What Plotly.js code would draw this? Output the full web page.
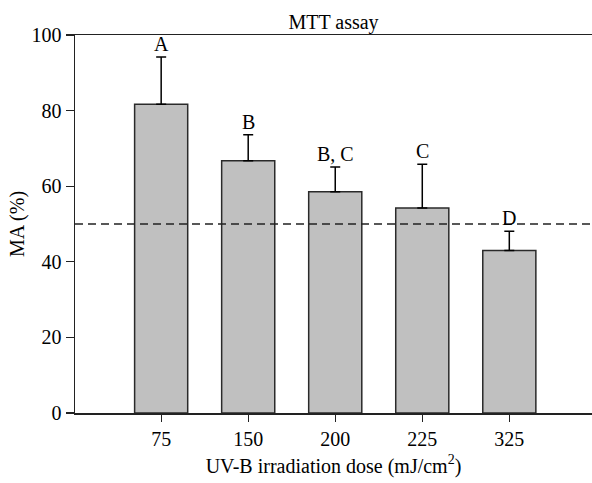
<!DOCTYPE html>
<html>
<head>
<meta charset="utf-8">
<script src="https://cdn.plot.ly/plotly-3.0.1.min.js"></script>
<style>html,body{margin:0;padding:0;background:#fff;}#chart{width:592px;height:483px;}</style>
</head>
<body>
<div id="chart"></div>
<script>
var doses = ["75", "150", "200", "225", "325"];
var maValues = [81.7, 66.7, 58.5, 54.2, 43.0];
var maErrors = [12.5, 6.9, 6.6, 11.6, 5.1];
var groupLabels = ["A", "B", "B, C", "C", "D"];
var thresholdValue = 50;

var FONT = "Liberation Serif, Times New Roman, serif";
var FS = 20;

var trace = {
  type: "bar",
  x: doses,
  y: maValues,
  width: 0.61,
  marker: {color: "#c0c0c0", line: {color: "#2a2a2a", width: 1.5}},
  error_y: {type: "data", array: maErrors, arrayminus: maErrors.map(function(){return 0;}), symmetric: false,
            color: "#000", thickness: 1.5, width: 5},
  hoverinfo: "none"
};

var annotations = doses.map(function(d, i) {
  return {x: i, y: maValues[i] + maErrors[i], xref: "x", yref: "y",
          text: groupLabels[i], showarrow: false, yanchor: "bottom", yshift: 0,
          font: {family: FONT, size: FS, color: "#000"}};
});

var layout = {
  width: 592, height: 483,
  margin: {l: 75, r: 0, t: 35, b: 70, pad: 0},
  paper_bgcolor: "#fff", plot_bgcolor: "#fff",
  showlegend: false,
  font: {family: FONT, size: FS, color: "#000"},
  title: {text: "MTT assay", font: {family: FONT, size: FS, color: "#000"},
          x: 0.5, xref: "paper", y: 1, yref: "paper", yanchor: "bottom", pad: {b: 6}},
  xaxis: {
    type: "category",
    range: [-0.99, 4.95],
    showline: true, linecolor: "#222", linewidth: 1.5, mirror: true,
    ticks: "outside", ticklen: 7, tickwidth: 1.3, tickcolor: "#222",
    showgrid: false, zeroline: false,
    tickfont: {family: FONT, size: FS, color: "#000"},
    title: {text: "UV-B irradiation dose (mJ/cm<sup>2</sup>)", font: {family: FONT, size: FS, color: "#000"}, standoff: 10}
  },
  yaxis: {
    range: [0, 100],
    tickvals: [0, 20, 40, 60, 80, 100],
    showline: true, linecolor: "#222", linewidth: 1.5, mirror: false,
    ticks: "outside", ticklen: 8, tickwidth: 1.3, tickcolor: "#222",
    showgrid: false, zeroline: false,
    tickfont: {family: FONT, size: FS, color: "#000"},
    title: {text: "MA (%)", font: {family: FONT, size: FS, color: "#000"}, standoff: 1}
  },
  shapes: [{type: "line", xref: "paper", x0: 0, x1: 1, yref: "y", y0: thresholdValue, y1: thresholdValue,
            line: {color: "#222", width: 1.5, dash: "8px,5px"}}],
  annotations: annotations
};

Plotly.newPlot("chart", [trace], layout, {displayModeBar: false, staticPlot: true});
</script>
</body>
</html>
